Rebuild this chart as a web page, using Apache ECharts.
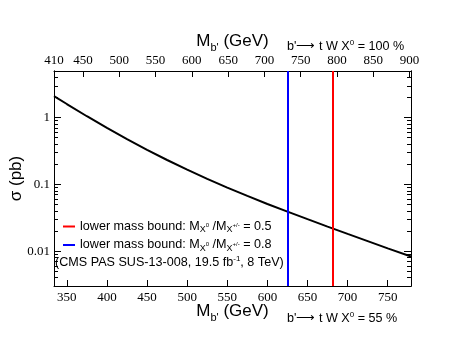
<!DOCTYPE html>
<html>
<head>
<meta charset="utf-8">
<script src="https://cdn.jsdelivr.net/npm/echarts@6/dist/echarts.min.js"></script>
<style>
html, body { margin: 0; padding: 0; background: #fff; }
#chart { width: 464px; height: 358px; }
</style>
</head>
<body>
<div id="chart"></div>
<script>
// b' mass (bottom axis, GeV) and cross section (pb)
var massBottom = [334, 350, 375, 400, 425, 450, 475, 500, 525, 550, 575, 600, 625, 650, 675, 700, 725, 750, 779];
var sigma = [2.1, 1.6, 1.05, 0.70, 0.476, 0.330, 0.232, 0.166, 0.121, 0.0895, 0.0671, 0.0509, 0.0390, 0.0301, 0.0233, 0.0181, 0.0141, 0.0110, 0.0083];

// lower mass bounds (bottom axis)
var boundRatio05 = 681;
var boundRatio08 = 625;

var bottomTicks = [350, 400, 450, 500, 550, 600, 650, 700, 750];
var topTicks = [450, 500, 550, 600, 650, 700, 750, 800, 850, 900];
var topLabels = [410, 450, 500, 550, 600, 650, 700, 750, 800, 850, 900];
var yMajor = [0.01, 0.1, 1];
var yMinor = [0.004, 0.005, 0.006, 0.007, 0.008, 0.009,
              0.02, 0.03, 0.04, 0.05, 0.06, 0.07, 0.08, 0.09,
              0.2, 0.3, 0.4, 0.5, 0.6, 0.7, 0.8, 0.9,
              2, 3, 4];

var serif = 'Liberation Serif';
var sans = 'Liberation Sans';

var curve = massBottom.map(function (m, i) { return [m, sigma[i]]; });

function tickLabel(values) {
    return {
        customValues: values, color: '#000', margin: 4,
        fontFamily: serif, fontSize: 13
    };
}

function yAxisDef(pos, ticks, len, labels, extra) {
    var lab = tickLabel(yMajor);
    lab.show = labels;
    var a = {
        type: 'log', min: 0.003, max: 5, position: pos,
        nameMoveOverlap: false,
        axisLine: {show: true, lineStyle: {color: '#000', width: 1}},
        axisTick: {show: true, inside: true, length: len, customValues: ticks, lineStyle: {color: '#000'}},
        axisLabel: lab,
        splitLine: {show: false}
    };
    for (var k in extra) a[k] = extra[k];
    return a;
}

var subRich = {s: {fontFamily: sans, fontSize: 11, color: '#000', padding: [12, 0, 0, 0]}};
var supRich = {sup: {fontFamily: sans, fontSize: 8, fill: '#000', padding: [0, 0, 7, 0]}};

var bottomLabel = tickLabel(bottomTicks);
bottomLabel.margin = 5;

var chart = echarts.init(document.getElementById('chart'));
chart.setOption({
    animation: false,
    backgroundColor: '#fff',
    grid: {left: 54, right: 53, top: 71, bottom: 72, containLabel: false, outerBoundsMode: 'none'},
    xAxis: [
        {
            type: 'value', min: 334, max: 779, position: 'bottom',
            name: 'M{s|b\'} (GeV)', nameLocation: 'middle', nameGap: 14, nameMoveOverlap: false,
            nameTextStyle: {fontFamily: sans, fontSize: 17, color: '#000', rich: subRich},
            axisLine: {show: true, lineStyle: {color: '#000', width: 1}},
            axisTick: {show: true, inside: true, length: 6, customValues: bottomTicks, lineStyle: {color: '#000'}},
            axisLabel: bottomLabel,
            splitLine: {show: false}
        },
        {
            type: 'value', min: 410, max: 902, position: 'top',
            name: 'M{s|b\'} (GeV)', nameLocation: 'middle', nameGap: 18, nameMoveOverlap: false,
            nameTextStyle: {fontFamily: sans, fontSize: 17, color: '#000', rich: subRich},
            axisLine: {show: true, lineStyle: {color: '#000', width: 1}},
            axisTick: {show: true, inside: true, length: 6, customValues: topTicks, lineStyle: {color: '#000'}},
            axisLabel: tickLabel(topLabels),
            splitLine: {show: false}
        }
    ],
    yAxis: [
        yAxisDef('left', yMajor, 7, true, {
            name: 'σ (pb)', nameLocation: 'middle', nameGap: 29,
            nameTextStyle: {fontFamily: sans, fontSize: 17, color: '#000'}
        }),
        yAxisDef('left', yMinor, 4, false, {}),
        yAxisDef('right', yMajor, 7, false, {}),
        yAxisDef('right', yMinor, 4, false, {})
    ],
    legend: {
        orient: 'vertical', left: 58, top: 215, itemWidth: 12, itemHeight: 2, itemGap: 4,
        icon: 'rect',
        data: ['r05', 'r08'],
        formatter: function (name) {
            var r = name === 'r05' ? '0.5' : '0.8';
            return 'lower mass bound: M{s|X}{ss|0} /M{s|X}{ss|+/-} = ' + r;
        },
        textStyle: {fontFamily: sans, fontSize: 12.6, color: '#000',
            rich: {
                s: {fontFamily: sans, fontSize: 9, color: '#000', padding: [7, 0, 0, 0]},
                ss: {fontFamily: sans, fontSize: 6, color: '#000', padding: [0, 0, 2, 0]}
            }}
    },
    graphic: [
        {
            type: 'text', left: 55, top: 255,
            style: {text: '(CMS PAS SUS-13-008, 19.5 fb{sup|-1}, 8 TeV)', fontFamily: sans, fontSize: 12.6, fill: '#000', rich: supRich}
        },
        {
            type: 'text', left: 287, top: 39,
            style: {text: 'b\'⟶ t W X{sup|0} = 100 %', fontFamily: sans, fontSize: 12.6, fill: '#000', rich: supRich}
        },
        {
            type: 'text', left: 287, top: 311,
            style: {text: 'b\'⟶ t W X{sup|0} = 55 %', fontFamily: sans, fontSize: 12.6, fill: '#000', rich: supRich}
        }
    ],
    series: [
        {
            type: 'line', xAxisIndex: 0, yAxisIndex: 0, data: curve,
            showSymbol: false, smooth: false, lineStyle: {color: '#000', width: 2}, z: 3
        },
        {
            name: 'r05', type: 'line', xAxisIndex: 0, yAxisIndex: 0, data: [],
            itemStyle: {color: '#ff0000'},
            markLine: {silent: true, symbol: 'none', label: {show: false},
                lineStyle: {color: '#ff0000', width: 2, type: 'solid'},
                data: [{xAxis: boundRatio05}]}
        },
        {
            name: 'r08', type: 'line', xAxisIndex: 0, yAxisIndex: 0, data: [],
            itemStyle: {color: '#0000ff'},
            markLine: {silent: true, symbol: 'none', label: {show: false},
                lineStyle: {color: '#0000ff', width: 2, type: 'solid'},
                data: [{xAxis: boundRatio08}]}
        }
    ]
});
</script>
</body>
</html>
